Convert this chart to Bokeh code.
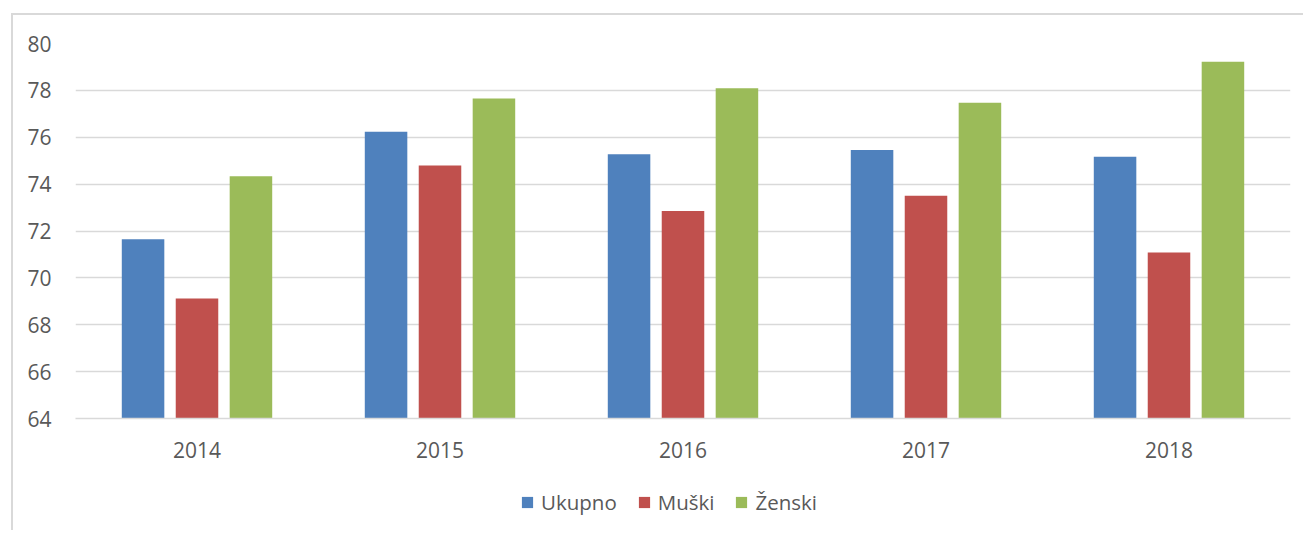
from bokeh.plotting import figure
from bokeh.layouts import column
from bokeh.models import FactorRange, Range1d, Legend, LegendItem, FixedTicker
from bokeh.transform import dodge
from bokeh.embed import file_html
from bokeh.resources import INLINE

years = ["2014", "2015", "2016", "2017", "2018"]
ukupno = [71.65, 76.23, 75.28, 75.46, 75.17]
muski = [69.12, 74.79, 72.85, 73.50, 71.08]
zenski = [74.34, 77.65, 78.09, 77.47, 79.22]
series_names = ["Ukupno", "Muški", "Ženski"]
y_ticks = [64, 66, 68, 70, 72, 74, 76, 78, 80]

colors = ["#4F81BD", "#C0504D", "#9BBB59"]
FONT = "Open Sans"
TXT = "#595959"
GRID = "#d9d9d9"

data = dict(year=years, Ukupno=ukupno, Muski=muski, Zenski=zenski)
offsets = [-0.222, 0.0, 0.222]
cols = ["Ukupno", "Muski", "Zenski"]

# main chart
p = figure(x_range=FactorRange(*years), y_range=Range1d(64, 80),
           width=1290, height=455, output_backend="svg", toolbar_location=None,
           min_border_left=62, min_border_right=13, min_border_top=28, min_border_bottom=52)

for col, off, c in zip(cols, offsets, colors):
    p.vbar(x=dodge("year", off, range=p.x_range), top=col, bottom=0, width=0.175,
           source=data, fill_color=c, line_color=None)

p.outline_line_color = None
p.xgrid.grid_line_color = None
p.ygrid.grid_line_color = GRID
p.ygrid.grid_line_width = 1.5
p.yaxis.ticker = FixedTicker(ticks=y_ticks)

for ax in (p.xaxis[0], p.yaxis[0]):
    ax.major_tick_line_color = None
    ax.minor_tick_line_color = None
    ax.major_label_text_font = FONT
    ax.major_label_text_font_size = "21px"
    ax.major_label_text_color = TXT
p.yaxis.axis_line_color = None
p.yaxis.major_label_standoff = 18
p.xaxis.axis_line_color = GRID
p.xaxis.axis_line_width = 1.5
p.xaxis.major_label_standoff = 17

# legend strip underneath
lf = figure(x_range=FactorRange(*years), y_range=Range1d(64, 80),
            width=1290, height=60, output_backend="svg", toolbar_location=None,
            x_axis_type=None, y_axis_type=None, min_border=0)
lf.outline_line_color = None
lf.xgrid.grid_line_color = None
lf.ygrid.grid_line_color = None
items = []
for name, col, off, c in zip(series_names, cols, offsets, colors):
    r = lf.vbar(x=dodge("year", off, range=lf.x_range), top=col, bottom=0, width=0.175,
                source=data, fill_color=c, line_color=None, visible=False)
    items.append(LegendItem(label=name, renderers=[r]))

legend = Legend(items=items, orientation="horizontal", location=(445, 14),
                glyph_width=14, glyph_height=14, label_standoff=7, spacing=20,
                label_text_font=FONT, label_text_font_size="20.5px", label_text_color=TXT,
                border_line_color=None, background_fill_alpha=0, padding=0, margin=0,
                inactive_fill_alpha=0, click_policy="none")
lf.add_layout(legend, "center")

root = column(p, lf, spacing=0,
              styles={"border-left": "2px solid #d9d9d9", "border-top": "2px solid #d9d9d9",
                      "margin-left": "11px", "margin-top": "13px"})

open("out.html", "w").write(file_html(root, INLINE))
